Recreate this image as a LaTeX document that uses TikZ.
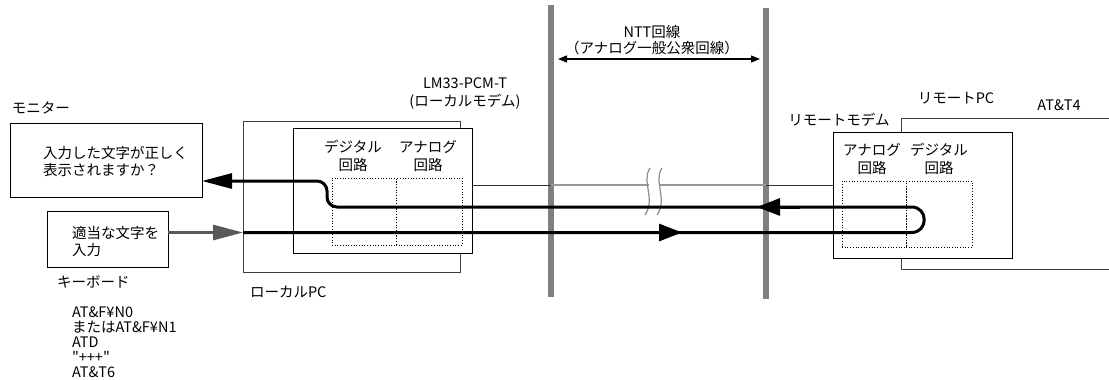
\documentclass[tikz,border=0pt]{standalone}
\usepackage{fontspec}
\setmainfont{Noto Sans CJK JP}
\newfontfamily\qfont{Noto Sans CJK JP}
\usetikzlibrary{arrows.meta}
\begin{document}
\begin{tikzpicture}[x=1pt,y=-1pt,
  every node/.style={inner sep=0pt, outer sep=0pt, font=\fontsize{14.5}{17}\selectfont},
  box/.style={draw=black, line width=0.9pt, fill=white, anchor=north west},
  pcbox/.style={draw=black!75, line width=0.9pt, fill=white, anchor=north west},
  dotbox/.style={draw=black, line width=0.7pt, dotted, anchor=north west},
  bar/.style={draw=black!50, line width=6pt},
  sig/.style={line width=3pt, draw=black},
  bigtip/.style={-{Triangle[length=30pt,width=15pt]}},
  midtip/.style={-{Triangle[length=23pt,width=17pt]}},
  twoline/.style={align=center, font=\fontsize{14.5}{18}\selectfont},
  squig/.style={draw=black!45, line width=1.2pt},
]
\useasboundingbox (0,0) rectangle (1109,380);

% vertical line bars
\draw[bar] (551,5) -- (551,297);
\draw[bar] (766,8) -- (766,299);

% boxes
\node[box, minimum width=192pt, minimum height=74pt] (monitor) at (10,123) {};
\node[box, minimum width=121pt, minimum height=56pt] (keyboard) at (47,211) {};
\node[pcbox, minimum width=217pt, minimum height=151pt] (localpc) at (243,121) {};
\node[box, minimum width=179pt, minimum height=125pt] (localmodem) at (293,128) {};
\node[dotbox, minimum width=64pt, minimum height=67pt] (ldigbox) at (332,178) {};
\node[dotbox, minimum width=66pt, minimum height=67pt] (lanabox) at (396,178) {};
\node[pcbox, minimum width=214pt, minimum height=151pt] (remotepc) at (901,118) {};
\node[box, minimum width=179pt, minimum height=126pt] (remotemodem) at (833,132) {};
\node[dotbox, minimum width=64pt, minimum height=66pt] (ranabox) at (842,181) {};
\node[dotbox, minimum width=66pt, minimum height=66pt] (rdigbox) at (906,181) {};

% texts
\node[anchor=west] (lblmon) at (12,108) {モニター};
\node[anchor=west, align=left] (montext) at (43,161.5) {入力した文字が正しく\\表示されますか？};
\node[anchor=west, align=left] (kbtext) at (72,241.5) {適当な文字を\\入力};
\node[anchor=west] (lblkb) at (57,282) {キーボード};
\node[anchor=west, align=left, font=\fontsize{14.5}{15}\selectfont] (cmds) at (72,342) {AT\&F¥N0\\またはAT\&F¥N1\\ATD\\{\qfont"+++"}\\AT\&T6};
\node[anchor=west] (lblpc) at (250,292) {ローカルPC};
\node[twoline] (lblmodem) at (465,94) {LM33-PCM-T\\(ローカルモデム)};
\node[twoline] (ldig) at (353,156) {デジタル\\回路};
\node[twoline] (lana) at (428,156) {アナログ\\回路};
\node[align=center, font=\fontsize{14.5}{16}\selectfont] (ntt) at (652,40) {NTT回線\\（アナログ一般公衆回線）};
\node (lblrpc) at (956,98) {リモートPC};
\node (lblatt) at (1059,105) {AT\&T4};
\node (lblrm) at (839,120) {リモートモデム};
\node[twoline] (rana) at (872,159) {アナログ\\回路};
\node[twoline] (rdig) at (939,159) {デジタル\\回路};

% NTT span arrow
\coordinate (nttL) at (558,59);
\coordinate (nttR) at (760,59);
\draw[line width=1.3pt, {Triangle[length=9pt,width=7pt]}-{Triangle[length=9pt,width=7pt]}] (nttL) -- (nttR);

% telephone line
\coordinate (telL) at (472,185);
\coordinate (barL) at (551,185);
\coordinate (barR) at (766,185);
\coordinate (telR) at (833,185);
\draw[black!80, line width=0.9pt] (telL) -- (barL);
\draw[black!40, line width=1.6pt] (barL) -- (barR);
\draw[black!80, line width=0.9pt] (barR) -- (telR);
\fill[white] (649,182) rectangle (659,188);
\draw[squig] (650,168) .. controls (641,181) and (656,199) .. (645,215);
\draw[squig] (662,168) .. controls (653,181) and (668,199) .. (657,215);

% keyboard input arrow
\coordinate (kout) at (168,232.5);
\coordinate (kin) at (243,232.5);
\draw[draw=black!65, line width=3pt, -{Triangle[length=30pt,width=15pt]}, black!65] (kout) -- (kin);

% signal loop
\coordinate (loopB) at (911.5,232.5);
\coordinate (loopT) at (911.5,207);
\coordinate (bendB) at (337,207);
\coordinate (bendT) at (317,181);
\coordinate (monin) at (202,181);
\draw[sig, bigtip, line join=round] (kin) -- (loopB)
  .. controls (928.5,232.5) and (928.5,207) .. (loopT)
  -- (bendB) .. controls (331.5,207) and (327,202.5) .. (327,197)
  -- (327,191) .. controls (327,185.5) and (322.5,181) .. (bendT) -- (monin);

% direction marks
\coordinate (fwdA) at (640,232.5);
\coordinate (fwdB) at (682,232.5);
\coordinate (retA) at (800,207);
\coordinate (retB) at (757,207);
\draw[sig, midtip] (fwdA) -- (fwdB);
\draw[sig, midtip] (retA) -- (retB);
\end{tikzpicture}
\end{document}
